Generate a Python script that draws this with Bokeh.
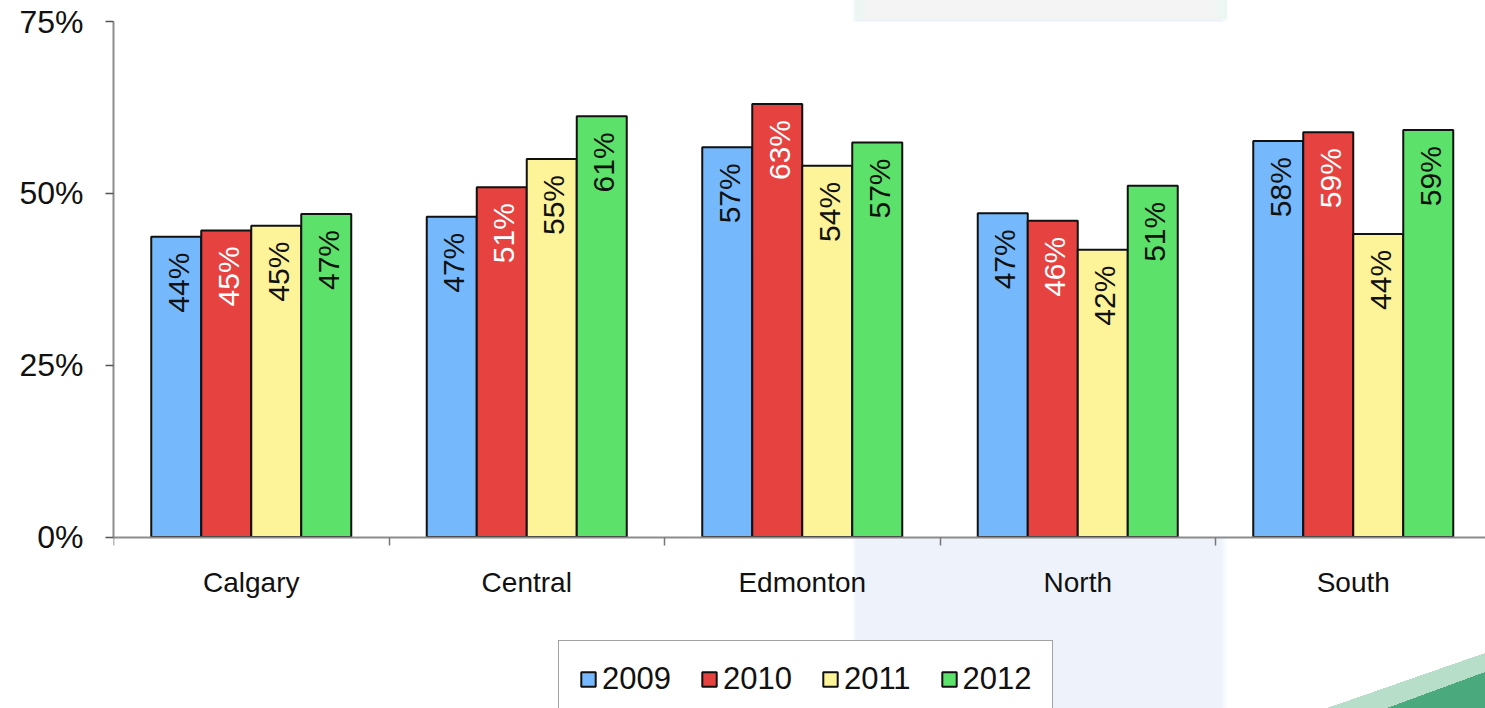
import math
from bokeh.plotting import figure
from bokeh.models import (ColumnDataSource, Range1d, FixedTicker, PrintfTickFormatter,
                          Legend, LegendItem, BoxAnnotation)
from bokeh.core.properties import value
from bokeh.embed import file_html
from bokeh.resources import INLINE

# ---- data ----
regions = ["Calgary", "Central", "Edmonton", "North", "South"]
years = ["2009", "2010", "2011", "2012"]
v2009 = [43.7, 46.6, 56.7, 47.1, 57.6]
v2010 = [44.6, 50.9, 63.0, 46.0, 58.9]
v2011 = [45.3, 55.0, 54.0, 41.8, 44.1]
v2012 = [47.0, 61.2, 57.4, 51.1, 59.2]
y_ticks = [0, 25, 50, 75]

series = [v2009, v2010, v2011, v2012]
fill_colors = ["#75b9fc", "#e54240", "#fdf399", "#5ce26a"]
label_colors = ["#111111", "#ffffff", "#111111", "#111111"]

FONT = "Liberation Sans"
W, H = 1485, 708
frame_left, frame_top = 113, 21
zero_px = 536.5                      # pixel row of the 0% line
frame_w = W - frame_left
cat_px = 275.5
bar_w = 50.0 / cat_px
y_max = 75.0
units_per_px = y_max / (zero_px - frame_top)
y_min = -(H - zero_px) * units_per_px

p = figure(width=W, height=H, output_backend="svg", toolbar_location=None,
           x_range=Range1d(0, frame_w / cat_px), y_range=Range1d(y_min, y_max),
           min_border_left=frame_left, min_border_right=0,
           min_border_top=frame_top, min_border_bottom=0)
p.outline_line_color = None
p.grid.visible = False
p.background_fill_color = None
p.border_fill_color = None
p.styles = {
    "background": (
        "linear-gradient(to top left, #4aaa7d 50%, rgba(255,255,255,0) 50%) right bottom / 98px 36px no-repeat, "
        "linear-gradient(to top left, #b7dec8 50%, rgba(255,255,255,0) 50%) right bottom / 158px 55px no-repeat, "
        "linear-gradient(to right, #eaf7f1, #f4f4f4 4%, #f4f4f4 96%, #eaf7f1) 855px 0 / 372px 19px no-repeat, "
        "linear-gradient(to right, #ffffff 852px, #eef3fb 856px, #eef3fb 1221px, #ffffff 1228px)"
    )
}
# white plotting area above the zero line
p.add_layout(BoxAnnotation(bottom=0, fill_color="white", fill_alpha=1.0,
                           line_color=None, level="underlay"))

items = []
for j, (vals, yr) in enumerate(zip(series, years)):
    xs = [i + 0.5 + (j - 1.5) * bar_w for i in range(len(regions))]
    src = ColumnDataSource(dict(x=xs, top=vals,
                                lab=[f"{round(v)}%" for v in vals]))
    r = p.vbar(x="x", top="top", width=bar_w, bottom=0, source=src,
               fill_color=fill_colors[j], line_color="#111111", line_width=2)
    p.text(x="x", y="top", text="lab", source=src, angle=math.pi / 2,
           text_align="right", text_baseline="middle", y_offset=16, x_offset=2,
           text_font=value(FONT), text_font_size="30px", text_color=label_colors[j])
    items.append(LegendItem(label=yr, renderers=[r]))

# y axis
ya = p.yaxis[0]
ya.bounds = (0, y_max)
ya.ticker = FixedTicker(ticks=y_ticks, minor_ticks=[])
ya.formatter = PrintfTickFormatter(format="%d%%")
ya.major_label_text_font = FONT
ya.major_label_text_font_size = "32px"
ya.major_label_text_color = "#111111"
ya.major_tick_out = 8
ya.major_tick_in = 0
ya.major_tick_line_color = "#555555"
ya.major_tick_line_width = 1.5
ya.axis_line_color = "#8c8c8c"
ya.axis_line_width = 2
ya.major_label_standoff = 22

# x axis drawn at the zero line
xa = p.xaxis[0]
xa.fixed_location = 0
xa.ticker = FixedTicker(ticks=[i + 0.5 for i in range(len(regions))],
                        minor_ticks=list(range(len(regions) + 1)))
xa.major_label_overrides = {i + 0.5: name for i, name in enumerate(regions)}
xa.major_tick_out = 0
xa.major_tick_in = 0
xa.minor_tick_out = 8
xa.minor_tick_in = 0
xa.minor_tick_line_color = "#777777"
xa.minor_tick_line_width = 1.5
xa.axis_line_color = "#8c8c8c"
xa.axis_line_width = 2
xa.major_label_text_font = FONT
xa.major_label_text_font_size = "28px"
xa.major_label_text_color = "#111111"
xa.major_label_standoff = 22

legend = Legend(items=items, orientation="horizontal", location=(445, -10),
                label_text_font=FONT, label_text_font_size="31px",
                label_text_color="#111111",
                glyph_width=18, glyph_height=18, label_standoff=5, spacing=29,
                padding=20, border_line_color="#444444", border_line_width=1.5,
                background_fill_color="white", background_fill_alpha=1.0)
p.add_layout(legend, "center")

open("out.html", "w").write(file_html(p, INLINE))
